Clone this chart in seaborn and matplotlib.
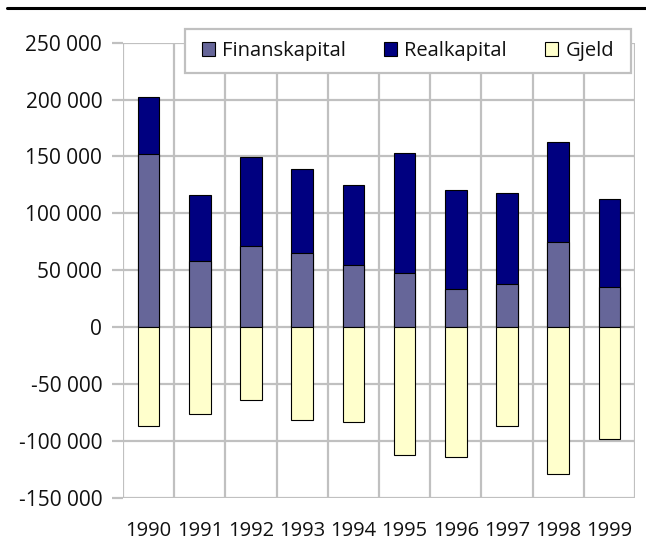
import matplotlib
matplotlib.use("Agg")
import matplotlib.pyplot as plt
from matplotlib.lines import Line2D
from matplotlib.patches import Patch, Rectangle
import numpy as np
import pandas as pd
import seaborn as sns

years = ["1990", "1991", "1992", "1993", "1994", "1995", "1996", "1997", "1998", "1999"]
finanskapital = [152300, 58300, 71000, 65300, 55000, 47200, 33500, 37600, 74600, 35200]
realkapital = [49700, 57700, 78500, 73700, 69700, 105800, 87400, 80100, 88300, 77300]
gjeld = [-87200, -76500, -64000, -81700, -83400, -112800, -114000, -87200, -128800, -98300]

C_FIN = "#666699"
C_REAL = "#000080"
C_GJELD = "#FFFFCC"
GRID = "#c0c0c0"
TXT = "#111111"

sns.set_theme(style="white")
plt.rcParams["font.family"] = ["Open Sans", "DejaVu Sans"]

df = pd.DataFrame({"year": years, "fin": finanskapital, "real": realkapital, "gjeld": gjeld})
df["total"] = df["fin"] + df["real"]

fig = plt.figure(figsize=(6.46, 5.43), dpi=100)
ax = fig.add_axes([123 / 646, 1 - 497.7 / 543, (635 - 123) / 646, (497.7 - 42.7) / 543])

bar_kw = dict(width=0.42, edgecolor="black", linewidth=0.8, ax=ax, zorder=3)
# stacked: total (real colour) first, then finanskapital over its lower part
sns.barplot(data=df, x="year", y="total", color=C_REAL, saturation=1, **bar_kw)
sns.barplot(data=df, x="year", y="fin", color=C_FIN, saturation=1, **bar_kw)
sns.barplot(data=df, x="year", y="gjeld", color=C_GJELD, saturation=1, **bar_kw)

ax.set_ylim(-150000, 250000)
ax.set_xlim(-0.5, len(years) - 0.5)
ticks = list(range(-150000, 250001, 50000))
ax.set_yticks(ticks)
ax.set_yticklabels([f"{v:,}".replace(",", " ") for v in ticks])

# grid: horizontal at ticks, vertical at category boundaries
for y in ticks:
    ax.axhline(y, color=GRID, lw=1.6, zorder=1)
for xb in np.arange(-0.5, len(years), 1.0):
    ax.axvline(xb, color=GRID, lw=1.6, zorder=1)

for s in ax.spines.values():
    s.set_visible(False)

ax.set_xlabel("")
ax.set_ylabel("")
ax.tick_params(axis="y", length=8, width=1.6, color=GRID, pad=7, labelsize=15,
               labelcolor=TXT, left=True)
ax.tick_params(axis="x", length=0, pad=17, labelsize=14.5, labelcolor=TXT)

# legend box drawn in figure pixels, legend itself frameless inside it
fig.add_artist(Rectangle((185 / 646, 1 - 73 / 543), (631 - 185) / 646, 44 / 543,
                         transform=fig.transFigure, facecolor="white",
                         edgecolor=GRID, lw=1.6, zorder=4))
handles = [Patch(facecolor=C_FIN, edgecolor="black", lw=0.8),
           Patch(facecolor=C_REAL, edgecolor="black", lw=0.8),
           Patch(facecolor=C_GJELD, edgecolor="black", lw=0.8)]
leg = fig.legend(handles, ["Finanskapital", "Realkapital", "Gjeld"],
                 loc="center", ncol=3,
                 bbox_to_anchor=((185 + 631) / 2 / 646, 1 - 51 / 543),
                 frameon=False, fontsize=14.5,
                 handlelength=0.65, handleheight=0.65, handletextpad=0.35,
                 borderaxespad=0, borderpad=0, columnspacing=1.9)
leg.set_zorder(5)
for t in leg.get_texts():
    t.set_color(TXT)

fig.add_artist(Line2D([7 / 646, 1.0], [1 - 8 / 543, 1 - 8 / 543], color="black", lw=2.2))

fig.savefig("out.png", dpi=100)
